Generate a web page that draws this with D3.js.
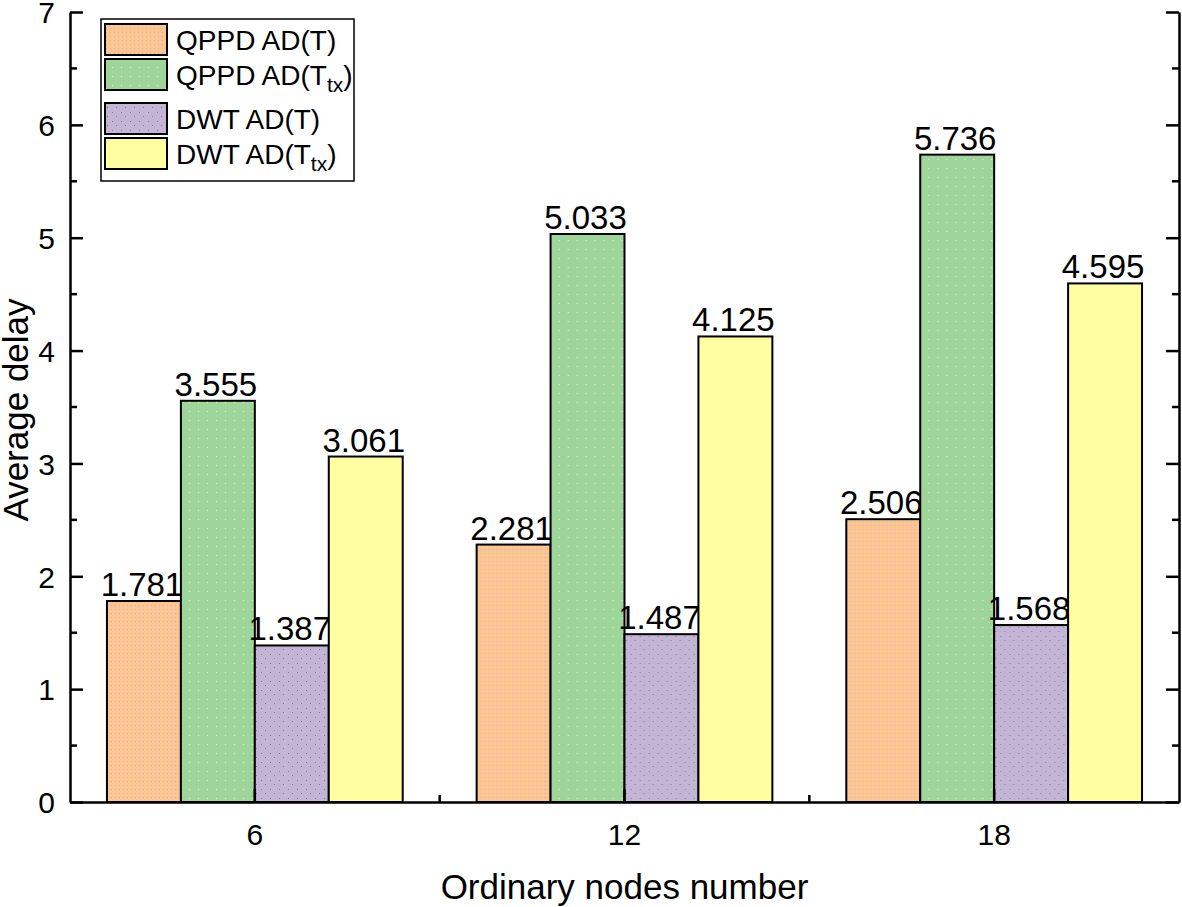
<!DOCTYPE html>
<html>
<head>
<meta charset="utf-8">
<script src="https://cdn.jsdelivr.net/npm/d3@7"></script>
<style>
  body { margin: 0; background: #fff; }
  svg text { font-family: "Liberation Sans", Arial, sans-serif; fill: #000; }
</style>
</head>
<body>
<div id="chart"></div>
<script>
const categories = ["6", "12", "18"];
const seriesNames = ["QPPD AD(T)", "QPPD AD(Ttx)", "DWT AD(T)", "DWT AD(Ttx)"];
const qppdT = [1.781, 2.281, 2.506];
const qppdTtx = [3.555, 5.033, 5.736];
const dwtT = [1.387, 1.487, 1.568];
const dwtTtx = [3.061, 4.125, 4.595];
const yTicks = [0, 1, 2, 3, 4, 5, 6, 7];

const seriesValues = [qppdT, qppdTtx, dwtT, dwtTtx];
const fills = ["#ffc58f", "#9dd59b", "#c4b5d7", "#ffffa1"];
const dotColors = ["#b8b3e0", "#f4f39a", "#808080", "#ffffa1"];

const width = 1182, height = 907;
const margin = { top: 12, right: 3, bottom: 105, left: 70 };
const plotW = width - margin.left - margin.right;
const plotH = height - margin.top - margin.bottom;

const svg = d3.select("#chart").append("svg")
    .attr("width", width)
    .attr("height", height);

// dotted textures like the original fills
const defs = svg.append("defs");
fills.forEach(function(c, i) {
    const p = defs.append("pattern")
        .attr("id", "pat" + i)
        .attr("patternUnits", "userSpaceOnUse")
        .attr("width", i === 0 ? 4 : 9)
        .attr("height", i === 0 ? 4 : 9);
    p.append("rect").attr("width", 9).attr("height", 9).attr("fill", c);
    if (i === 0) {
        p.append("rect").attr("x", 1).attr("y", 1).attr("width", 1).attr("height", 1).attr("fill", dotColors[i]);
    } else if (i !== 3) {
        p.append("rect").attr("x", 2).attr("y", 3).attr("width", 1).attr("height", 1).attr("fill", dotColors[i]);
        if (i === 2) p.append("rect").attr("x", 6).attr("y", 7).attr("width", 1).attr("height", 1).attr("fill", dotColors[i]);
    }
});

const g = svg.append("g")
    .attr("transform", "translate(" + margin.left + "," + margin.top + ")");

const x0 = d3.scaleBand().domain(categories).range([0, plotW]).padding(0);
const x1 = d3.scaleBand().domain(d3.range(seriesNames.length))
    .range([x0.bandwidth() * 0.1, x0.bandwidth() * 0.9]).padding(0);
const y = d3.scaleLinear().domain([0, 7]).range([plotH, 0]);

// bars
categories.forEach(function(cat, ci) {
    const grp = g.append("g").attr("transform", "translate(" + x0(cat) + ",0)");
    seriesValues.forEach(function(vals, si) {
        grp.append("rect")
            .attr("x", x1(si))
            .attr("y", y(vals[ci]))
            .attr("width", x1.bandwidth())
            .attr("height", y(0) - y(vals[ci]))
            .attr("fill", "url(#pat" + si + ")")
            .attr("stroke", "#000")
            .attr("stroke-width", 2);
        grp.append("text")
            .attr("x", x1(si) + x1.bandwidth() / 2 - 2)
            .attr("y", y(vals[ci]) - 5)
            .attr("text-anchor", "middle")
            .attr("font-size", "33px")
            .text(vals[ci].toFixed(3));
    });
});

// axes
const yAxisL = d3.axisLeft(y).tickValues(yTicks).tickFormat(d3.format("d"))
    .tickSize(-13).tickPadding(15).tickSizeOuter(0);
const yAxisR = d3.axisRight(y).tickValues(yTicks).tickSize(-13).tickFormat("").tickSizeOuter(0);
const minorVals = d3.range(0.5, 7, 1);

const gl = g.append("g").call(yAxisL);
gl.selectAll("text").attr("font-size", "30px").attr("dy", "0.36em");
gl.append("g").selectAll("line").data(minorVals).join("line")
    .attr("x1", 0).attr("x2", 7).attr("y1", function(d) { return y(d); }).attr("y2", function(d) { return y(d); });

const gr = g.append("g").attr("transform", "translate(" + plotW + ",0)").call(yAxisR);
gr.append("g").selectAll("line").data(minorVals).join("line")
    .attr("x1", 0).attr("x2", -7).attr("y1", function(d) { return y(d); }).attr("y2", function(d) { return y(d); });

const xAxis = d3.axisBottom(x0).tickSize(-13).tickPadding(22).tickSizeOuter(0);
const gx = g.append("g").attr("transform", "translate(0," + plotH + ")").call(xAxis);
gx.selectAll("text").attr("font-size", "30px");
gx.append("g").selectAll("line").data(categories.slice(1)).join("line")
    .attr("x1", function(d) { return x0(d); }).attr("x2", function(d) { return x0(d); })
    .attr("y1", 0).attr("y2", -7);

[gl, gr, gx].forEach(function(a) {
    a.selectAll("path.domain").attr("stroke", "#000").attr("stroke-width", 2.5);
    a.selectAll("line").attr("stroke", "#000").attr("stroke-width", 2.5);
});

// axis titles
svg.append("text")
    .attr("x", margin.left + plotW / 2)
    .attr("y", 899)
    .attr("text-anchor", "middle")
    .attr("font-size", "35px")
    .text("Ordinary nodes number");

svg.append("text")
    .attr("transform", "translate(28," + 410 + ") rotate(-90)")
    .attr("text-anchor", "middle")
    .attr("font-size", "35px")
    .text("Average delay");

// legend
const leg = svg.append("g").attr("transform", "translate(101,19)");
leg.append("rect")
    .attr("width", 253).attr("height", 162)
    .attr("fill", "#fff").attr("stroke", "#000").attr("stroke-width", 1.5);
const rowY = [5, 40, 84, 119];
seriesNames.forEach(function(name, i) {
    leg.append("rect")
        .attr("x", 4).attr("y", rowY[i])
        .attr("width", 62).attr("height", 31)
        .attr("fill", "url(#pat" + i + ")")
        .attr("stroke", "#000").attr("stroke-width", 2);
    const t = leg.append("text")
        .attr("x", 75).attr("y", rowY[i] + 26)
        .attr("font-size", "28px");
    const k = name.indexOf("Ttx");
    if (k >= 0) {
        t.append("tspan").text(name.slice(0, k) + "T");
        t.append("tspan").attr("font-size", "21px").attr("dy", 7).text("tx");
        t.append("tspan").attr("dy", -7).text(name.slice(k + 3));
    } else {
        t.text(name);
    }
});
</script>
</body>
</html>
